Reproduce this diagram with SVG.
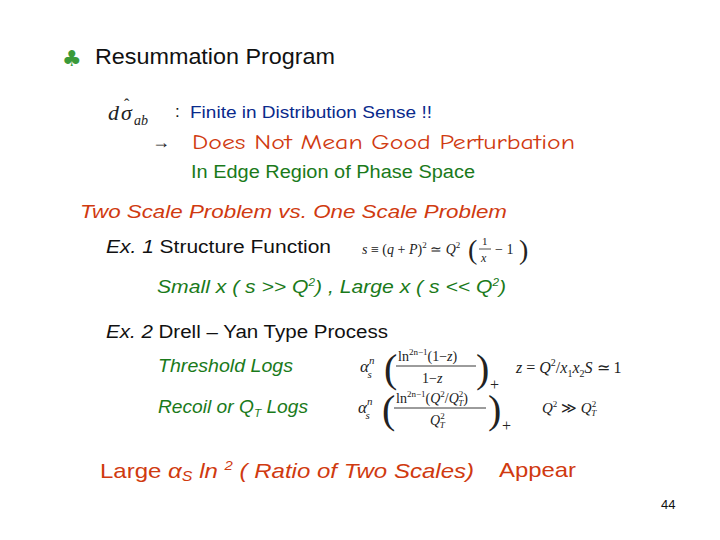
<svg xmlns="http://www.w3.org/2000/svg" width="720" height="540" viewBox="0 0 720 540">
<style>
.s{font-family:"Liberation Sans",Arial,sans-serif}
.m{font-family:"Liberation Serif","Times New Roman",serif;fill:#222}
.i{font-style:italic}
.b{fill:#0a2a8c}.r{fill:#d03a10}.g{fill:#1a7a1a}
</style>
<rect width="720" height="540" fill="#fff"/>
<g id="title">
<text x="62" y="66" font-family="DejaVu Sans,sans-serif" font-size="22" fill="#3a9a3a">♣</text>
<text x="95" y="64" class="s" font-size="22" fill="#111" textLength="240" lengthAdjust="spacingAndGlyphs">Resummation Program</text>
</g>
<g id="sigma">
<text x="108" y="120" class="m i" font-size="22">d</text>
<text x="121" y="120" class="m i" font-size="22">σ</text>
<text x="124" y="110" class="m" font-size="16">ˆ</text>
<text x="134" y="125" class="m i" font-size="14">ab</text>
<text x="175" y="117" class="s" font-size="17" fill="#111">:</text>
<text x="190" y="118" class="s b" font-size="17" textLength="242" lengthAdjust="spacingAndGlyphs">Finite in Distribution Sense !!</text>
<text x="152" y="148" class="m" font-size="18" fill="#d03a10">→</text>
<text x="192" y="149" font-family="'Comic Neue','DejaVu Sans',sans-serif" font-size="21" class="r" textLength="383" lengthAdjust="spacingAndGlyphs">Does Not Mean Good Perturbation</text>
<text x="191" y="178" class="s g" font-size="18" textLength="284" lengthAdjust="spacingAndGlyphs">In Edge Region of Phase Space</text>
</g>
<g id="twoscale">
<text x="80" y="218" class="s i" font-size="19" fill="#d03a10" textLength="427" lengthAdjust="spacingAndGlyphs">Two Scale Problem vs. One Scale Problem</text>
</g>
<g id="ex1">
<text x="106" y="253" class="s" font-size="18" fill="#111" textLength="225" lengthAdjust="spacingAndGlyphs"><tspan font-style="italic">Ex. 1</tspan>  Structure Function</text>
<text x="362" y="254" class="m i" font-size="14">s <tspan font-style="normal">≡ (</tspan>q <tspan font-style="normal">+</tspan> P<tspan font-style="normal">)</tspan><tspan font-size="9" dy="-6" font-style="normal">2</tspan><tspan dy="6" font-style="normal"> ≃ </tspan>Q<tspan font-size="9" dy="-6" font-style="normal">2</tspan></text>
<text x="468" y="259" class="m" font-size="28" fill="#222">(</text>
<text x="482" y="245" class="m" font-size="11">1</text>
<line x1="479" y1="249" x2="491" y2="249" stroke="#222" stroke-width="0.8"/>
<text x="481" y="262" class="m i" font-size="12">x</text>
<text x="495" y="254" class="m" font-size="14">− 1</text>
<text x="519" y="259" class="m" font-size="28">)</text>
<text x="157" y="293" class="s i g" font-size="18" textLength="349" lengthAdjust="spacingAndGlyphs">Small x ( s &gt;&gt; Q<tspan font-size="10" dy="-7">2</tspan><tspan dy="7">) , Large x ( s &lt;&lt; Q</tspan><tspan font-size="10" dy="-7">2</tspan><tspan dy="7">)</tspan></text>
</g>
<g id="ex2">
<text x="106" y="338" class="s" font-size="18" fill="#111" textLength="282" lengthAdjust="spacingAndGlyphs"><tspan font-style="italic">Ex. 2</tspan>  Drell – Yan Type Process</text>
<text x="158" y="372" class="s i g" font-size="18" textLength="135" lengthAdjust="spacingAndGlyphs">Threshold Logs</text>
<text x="158" y="413" class="s i g" font-size="18" textLength="150" lengthAdjust="spacingAndGlyphs">Recoil or Q<tspan font-size="11" dy="4">T</tspan><tspan dy="-4"> Logs</tspan></text>
</g>
<g id="f1">
<text x="360" y="372" class="m i" font-size="17">α<tspan font-size="11" dy="-8">n</tspan><tspan font-size="11" dx="-7" dy="14">s</tspan></text>
<text x="384" y="382" class="m" font-size="40">(</text>
<text x="398" y="361" class="m" font-size="14">ln<tspan font-size="9" dy="-6">2n−1</tspan><tspan dy="6">(1−</tspan><tspan font-style="italic">z</tspan>)</text>
<line x1="396" y1="366" x2="476" y2="366" stroke="#222" stroke-width="0.9"/>
<text x="422" y="383" class="m" font-size="14">1−<tspan font-style="italic">z</tspan></text>
<text x="476" y="382" class="m" font-size="40">)</text>
<text x="490" y="390" class="m" font-size="16">+</text>
<text x="516" y="373" class="m i" font-size="16">z <tspan font-style="normal">=</tspan> Q<tspan font-size="10" dy="-7" font-style="normal">2</tspan><tspan dy="7" font-style="normal">/</tspan>x<tspan font-size="10" dy="4" font-style="normal">1</tspan><tspan dy="-4">x</tspan><tspan font-size="10" dy="4" font-style="normal">2</tspan><tspan dy="-4">S</tspan><tspan font-style="normal"> ≃ 1</tspan></text>
</g>
<g id="f2">
<text x="358" y="413" class="m i" font-size="17">α<tspan font-size="11" dy="-8">n</tspan><tspan font-size="11" dx="-7" dy="14">s</tspan></text>
<text x="382" y="423" class="m" font-size="40">(</text>
<text x="396" y="403" class="m" font-size="14">ln<tspan font-size="9" dy="-6">2n−1</tspan><tspan dy="6">(</tspan><tspan font-style="italic">Q</tspan><tspan font-size="9" dy="-6">2</tspan><tspan dy="6">/</tspan><tspan font-style="italic">Q</tspan><tspan font-size="9" dy="-6">2</tspan><tspan font-size="9" dx="-5" dy="9" font-style="italic">T</tspan><tspan dy="-3">)</tspan></text>
<line x1="394" y1="408" x2="486" y2="408" stroke="#222" stroke-width="0.9"/>
<text x="430" y="425" class="m i" font-size="14">Q<tspan font-size="9" dy="-6" font-style="normal">2</tspan><tspan font-size="9" dx="-5" dy="9">T</tspan></text>
<text x="488" y="423" class="m" font-size="40">)</text>
<text x="502" y="431" class="m" font-size="16">+</text>
<text x="542" y="413" class="m i" font-size="15">Q<tspan font-size="9" dy="-6" font-style="normal">2</tspan><tspan dy="6" font-style="normal"> ≫ </tspan>Q<tspan font-size="9" dy="-6" font-style="normal">2</tspan><tspan font-size="9" dx="-5" dy="9">T</tspan></text>
</g>
<g id="bottom">
<text x="100" y="478" class="s r" font-size="21" textLength="374" lengthAdjust="spacingAndGlyphs">Large <tspan font-style="italic">α<tspan font-size="14" dy="3">S</tspan><tspan dy="-3"> ln </tspan><tspan font-size="13" dy="-8">2</tspan><tspan dy="8"> ( Ratio of Two Scales)</tspan></tspan></text>
<text x="499" y="477" class="s r" font-size="21" textLength="77" lengthAdjust="spacingAndGlyphs">Appear</text>
<text x="661" y="509" class="s" font-size="13" fill="#111">44</text>
</g>
</svg>
